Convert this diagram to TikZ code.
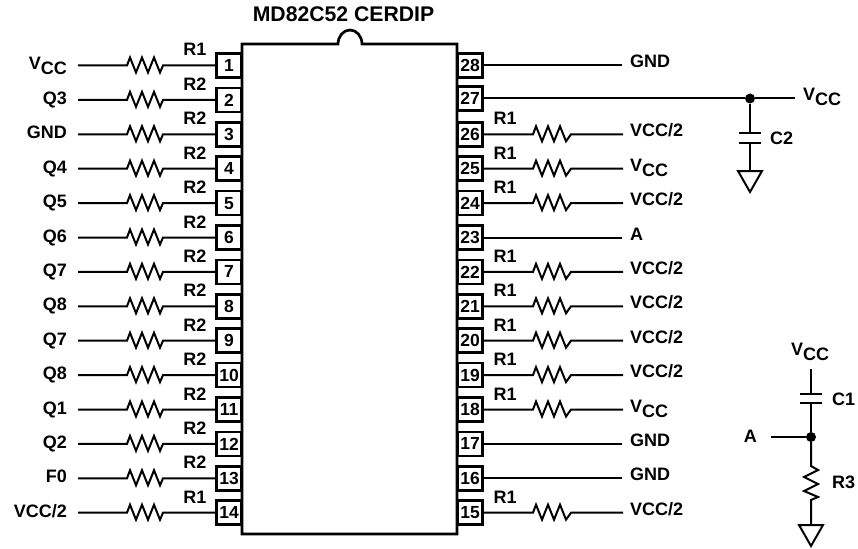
\documentclass[tikz,border=0pt]{standalone}
\usepackage{fontspec}
\setmainfont{Liberation Sans}
\usepackage{tikz}
\newcommand{\vccname}{V\raisebox{-5pt}{CC}}
\tikzset{
  wire/.style={line width=2pt,line join=miter},
  lbl/.style={font=\fontsize{18}{20}\selectfont\bfseries,inner sep=0pt},
  pinbox/.style={draw,line width=2.6pt,minimum width=25pt,minimum height=24pt,inner sep=0pt,fill=white,font=\fontsize{17.5}{20}\selectfont\bfseries},
  junction/.style={circle,fill=black,inner sep=0pt,minimum size=10pt},
  resh/.style={to path={-- ++(3,-8) -- ++(6,15) -- ++(6,-15) -- ++(6,15) -- ++(6,-15) -- ++(6,15) -- (\tikztotarget)}},
  resv/.style={to path={-- ++(7,4) -- ++(-14,7) -- ++(14,7) -- ++(-14,7) -- ++(14,6) -- ++(-7,3) -- (\tikztotarget)}}
}
\begin{document}
\begin{tikzpicture}[x=1pt,y=-1pt]
\useasboundingbox (0,0) rectangle (858,548);

\node[lbl,font=\fontsize{21.2}{24}\selectfont\bfseries,anchor=base] (title) at (343.5,22) {MD82C52 CERDIP};

% package outline
\draw [line width=2.7pt] (338,44) arc (180:360:12 and 14) -- (457,44) -- (457,534) -- (242,534) -- (242,44) -- cycle;

% left pins
\foreach \n/\sig/\rr in {1/\vccname/R1,2/Q3/R2,3/GND/R2,4/Q4/R2,5/Q5/R2,6/Q6/R2,7/Q7/R2,8/Q8/R2,9/Q7/R2,10/Q8/R2,11/Q1/R2,12/Q2/R2,13/F0/R2,14/VCC\slash 2/R1}{
  \pgfmathsetmacro{\py}{65.5+34.4*(\n-1)}
  \node[pinbox] (pin\n) at (229,\py) {\n};
  \node[lbl,anchor=base east] (sig\n) at (67,\py+4.5) {\sig};
  \node[lbl,anchor=base] (rlab\n) at (195,\py-9.5) {\rr};
  \coordinate (wire\n) at (78,\py);
  \coordinate (resa\n) at (127,\py);
  \coordinate (resb\n) at (163,\py);
  \draw [wire] (wire\n) -- (resa\n) to[resh] (resb\n) -- (pin\n);
}

% right pins with a resistor
\foreach \n/\sig in {26/VCC\slash 2,25/\vccname,24/VCC\slash 2,22/VCC\slash 2,21/VCC\slash 2,20/VCC\slash 2,19/VCC\slash 2,18/\vccname,15/VCC\slash 2}{
  \pgfmathsetmacro{\py}{65.5+34.4*(28-\n)}
  \node[pinbox] (pin\n) at (470,\py) {\n};
  \node[lbl,anchor=base west] (sig\n) at (630,\py+2.5) {\sig};
  \node[lbl,anchor=base] (rlab\n) at (505,\py-9.5) {R1};
  \coordinate (wire\n) at (623,\py);
  \coordinate (resa\n) at (533,\py);
  \coordinate (resb\n) at (571,\py);
  \draw [wire] (pin\n) -- (resa\n) to[resh] (resb\n) -- (wire\n);
}

% right pins without a resistor
\foreach \n/\sig in {28/GND,23/A,17/GND,16/GND}{
  \pgfmathsetmacro{\py}{65.5+34.4*(28-\n)}
  \node[pinbox] (pin\n) at (470,\py) {\n};
  \node[lbl,anchor=base west] (sig\n) at (630,\py+2.5) {\sig};
  \coordinate (wire\n) at (622,\py);
  \draw [wire] (pin\n) -- (wire\n);
}

% pin 27 and C2
\node[pinbox] (pin27) at (470,98.5) {27};
\node[junction] (dotb) at (750,98.5) {};
\coordinate (wire27) at (795,98.5);
\node[lbl,anchor=base west] (sig27) at (803,101) {\vccname};
\draw [wire] (pin27) -- (dotb) -- (wire27);
\coordinate (ctwotop) at (750,133);
\coordinate (ctwobot) at (750,143);
\coordinate (gndb) at (750,171);
\draw [wire] (dotb) -- (ctwotop);
\draw [wire] (739,133) -- (761,133);
\draw [wire] (739,143) -- (761,143);
\draw [wire] (ctwobot) -- (gndb);
\draw [wire] (738,171) -- (762,171) -- (750,192) -- cycle;
\node[lbl,anchor=base west] (ctwo) at (770,145) {C2};

% A network
\node[lbl,anchor=base] (vcctop) at (810,355) {\vccname};
\coordinate (conetop) at (811,369);
\coordinate (coneup) at (811,394);
\coordinate (conelow) at (811,403);
\node[junction] (dota) at (811,437) {};
\coordinate (wirea) at (771,437);
\coordinate (resc) at (811,466);
\coordinate (resd) at (811,503);
\coordinate (gnda) at (811,525);
\draw [wire] (conetop) -- (coneup);
\draw [wire] (800,394) -- (822,394);
\draw [wire] (800,403) -- (822,403);
\draw [wire] (conelow) -- (dota);
\draw [wire] (wirea) -- (dota);
\draw [wire] (dota) -- (resc) to[resv] (resd) -- (gnda);
\draw [wire] (799,525) -- (823,525) -- (811,546) -- cycle;
\node[lbl,anchor=base west] (cone) at (832,405) {C1};
\node[lbl,anchor=base west] (rthree) at (832,488) {R3};
\node[lbl,anchor=base east] (aname) at (757,442) {A};
\end{tikzpicture}
\end{document}
